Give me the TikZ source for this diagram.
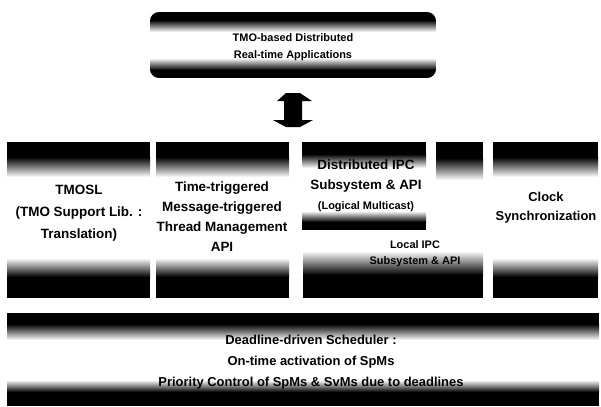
\documentclass[tikz,border=0pt]{standalone}
\usepackage{fontspec}
\setmainfont{Liberation Sans}
% Box with dark bands at top and bottom that fade to a white middle.
% #1,#2 = upper-left corner, #3,#4 = lower-right corner,
% #5 = top dark band, #6 = top fade, #7 = bottom fade, #8 = bottom dark band
\newcommand\bandbox[8]{%
  \fill[white] (#1,#2) rectangle (#3,#4);
  \fill[black] (#1,#2) rectangle (#3,{#2+#5+0.5});
  \shade[top color=black,bottom color=white] (#1,{#2+#5}) rectangle (#3,{#2+#5+#6});
  \shade[top color=white,bottom color=black] (#1,{#4-#8-#7}) rectangle (#3,{#4-#8});
  \fill[black] (#1,{#4-#8-0.5}) rectangle (#3,#4);
}
\begin{document}
\begin{tikzpicture}[x=1bp,y=-1bp,
  lbl/.style={align=center,inner sep=0pt,text=black,
    font=\bfseries\fontsize{13.5}{20}\selectfont},
  smalllbl/.style={align=center,inner sep=0pt,text=black,
    font=\bfseries\fontsize{11}{16}\selectfont}]
\useasboundingbox (0,0) rectangle (601,406);
\fill[white] (0,0) rectangle (601,406);

% application layer, rounded band
\begin{scope}
  \clip[rounded corners=9] (150,12) rectangle (436,78);
  \bandbox{150}{12}{436}{78}{8}{12}{12}{8}
\end{scope}
\node[lbl,font=\bfseries\fontsize{11}{17.5}\selectfont] (app) at (293,47)
  {TMO-based Distributed\\Real-time Applications};

% two-way block arrow between the layers
\coordinate (arr) at (293,110);
\fill[black] (277,101) -- (286,93) -- (300,93) -- (312,101) -- (302,101)
  -- (302,120) -- (313,120) -- (300,127) -- (286,127) -- (273,120)
  -- (284,120) -- (284,101) -- cycle;

% middleware blocks
\bandbox{7}{142}{150}{298}{15}{20}{19}{21}
\node[lbl,font=\bfseries\fontsize{13.5}{22}\selectfont] (tmosl) at (79,213)
  {TMOSL\\(TMO Support Lib. :\\Translation)};

\bandbox{156}{142}{289}{298}{15}{20}{19}{21}
\node[lbl] (thr) at (222,217)
  {Time-triggered\\Message-triggered\\Thread Management\\API};

% local IPC block, partly covered by the distributed IPC block
\bandbox{303}{142}{483}{298}{16}{22}{24}{23}
\fill[white] (302,140) rectangle (436,239);
\bandbox{302}{142}{426}{230}{12}{14}{11}{8}
\node[lbl,anchor=north] (dipc) at (366,160)
  {Distributed IPC\\Subsystem \& API\\[0bp]{\fontsize{11}{14}\selectfont (Logical Multicast)}};
\node[smalllbl] (lipc) at (415,254) {Local IPC\\Subsystem \& API};

\bandbox{493}{142}{598}{298}{15}{20}{19}{21}
\node[lbl,font=\bfseries\fontsize{13}{19}\selectfont] (clk) at (546,208)
  {Clock\\Synchronization};

% scheduler layer
\bandbox{7}{313}{599}{406}{11}{16}{12}{14}
\node[lbl,font=\bfseries\fontsize{13}{21}\selectfont] (sched) at (311,362)
  {Deadline-driven Scheduler :\\On-time activation of SpMs\\Priority Control of SpMs \& SvMs due to deadlines};
\end{tikzpicture}
\end{document}
